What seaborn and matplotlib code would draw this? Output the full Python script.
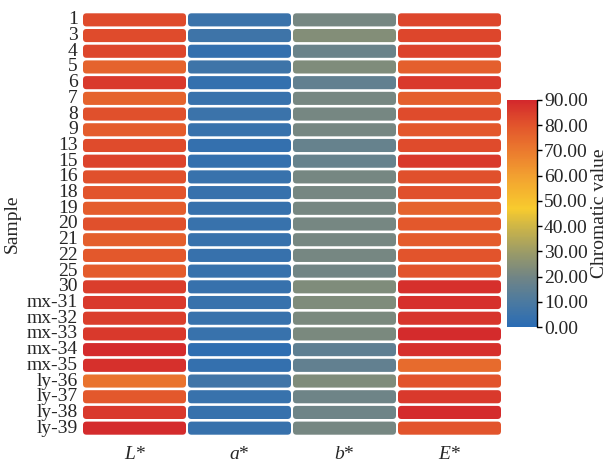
import numpy as np
import pandas as pd
import matplotlib
matplotlib.use("Agg")
import matplotlib.pyplot as plt
import seaborn as sns
from matplotlib import font_manager as fm
from matplotlib.colors import LinearSegmentedColormap
from matplotlib.patches import FancyBboxPatch

samples = ["1", "3", "4", "5", "6", "7", "8", "9", "13", "15", "16", "18", "19",
           "20", "21", "22", "25", "30", "mx-31", "mx-32", "mx-33", "mx-34",
           "mx-35", "ly-36", "ly-37", "ly-38", "ly-39"]
columns = ["L*", "a*", "b*", "E*"]
L_vals = [82, 82, 83, 76, 86, 76, 81, 78, 82, 84, 81, 80, 78, 81, 77, 79, 78, 85,
          86, 85, 86, 89, 88, 72, 79, 86, 89]
a_vals = [5, 6, 3, 6, 3, 4.5, 5, 4.5, 3, 3, 4.5, 4, 4, 4.5, 4.5, 4, 4.5, 4,
          4.5, 4.5, 4.5, 1.5, 3, 7, 4.5, 4, 4]
b_vals = [21, 24, 18, 23, 16, 21, 21, 21, 17, 17, 21, 21, 21, 21, 21, 21, 20, 23,
          23, 22, 22, 15, 16, 23, 19, 19, 21]
E_vals = [83, 83, 84, 77, 86, 77, 82, 79, 82, 86, 81, 81, 76, 79, 78, 80, 80, 88,
          88, 87, 89, 88, 74, 80, 86, 89, 80]
cbar_ticks = [0, 10, 20, 30, 40, 50, 60, 70, 80, 90]

df = pd.DataFrame({"L*": L_vals, "a*": a_vals, "b*": b_vals, "E*": E_vals},
                  index=samples)

sns.set_theme(style="white")
names = {f.name for f in fm.fontManager.ttflist}
serif = [n for n in ["Liberation Serif", "Times New Roman", "Nimbus Roman",
                     "DejaVu Serif"] if n in names]
plt.rcParams["font.family"] = serif + ["DejaVu Sans"]
plt.rcParams["mathtext.fontset"] = "custom"
plt.rcParams["mathtext.it"] = serif[0] + ":italic"
plt.rcParams["mathtext.rm"] = serif[0]

cmap = LinearSegmentedColormap.from_list("chrom", [
    (0.0, "#2a6cb4"),
    (10 / 90, "#4c7aa0"),
    (20 / 90, "#728584"),
    (30 / 90, "#9d9c66"),
    (40 / 90, "#cfb646"),
    (47 / 90, "#f8cb2e"),
    (60 / 90, "#f2a030"),
    (70 / 90, "#eb7a2e"),
    (80 / 90, "#e2552c"),
    (1.0, "#d3282c"),
])

W, H = 616, 462
fig = plt.figure(figsize=(W / 100, H / 100), dpi=100)
ax = fig.add_axes([82 / W, 1 - 436 / H, 420 / W, 424 / H])
cax = fig.add_axes([507 / W, 1 - 327 / H, 30 / W, 227 / H])

sns.heatmap(df, ax=ax, cbar_ax=cax, cmap=cmap, vmin=0, vmax=90,
            xticklabels=True, yticklabels=True,
            cbar_kws={"ticks": cbar_ticks, "format": "%.2f"})

mesh = ax.collections[0]
mesh.set_visible(False)
norm = mesh.norm
nrows, ncols = df.shape
px_x = 420 / ncols
px_y = 424 / nrows
gx = 1.0 / px_x
gy = 1.3 / px_y
r = 3.5 / px_x
for i in range(nrows):
    for j in range(ncols):
        val = df.iloc[i, j]
        p = FancyBboxPatch((j + gx, i + gy), 1 - 2 * gx, 1 - 2 * gy,
                           boxstyle=f"round,pad=0,rounding_size={r}",
                           mutation_aspect=px_x / px_y,
                           facecolor=cmap(norm(val)), edgecolor="none")
        ax.add_patch(p)

ax.set_xticklabels([f"${c[0]}$*" for c in columns], fontsize=14)
ax.set_yticklabels(samples, rotation=0, fontsize=14)
ax.tick_params(axis="both", length=0, pad=3)
ax.tick_params(axis="x", pad=7)
ax.set_ylabel("Sample", fontsize=14, labelpad=4)
ax.set_xlabel("")

cb = mesh.colorbar
cb.outline.set_visible(False)
cax.plot([1, 1], [0, 1], transform=cax.transAxes, color="black", lw=1,
         clip_on=False)
cax.tick_params(axis="y", length=3.5, width=1, color="black", labelsize=14,
                pad=1.5, right=True, direction="out")
cb.set_label("Chromatic value", fontsize=14, labelpad=2)

fig.savefig("out.png", dpi=100)
